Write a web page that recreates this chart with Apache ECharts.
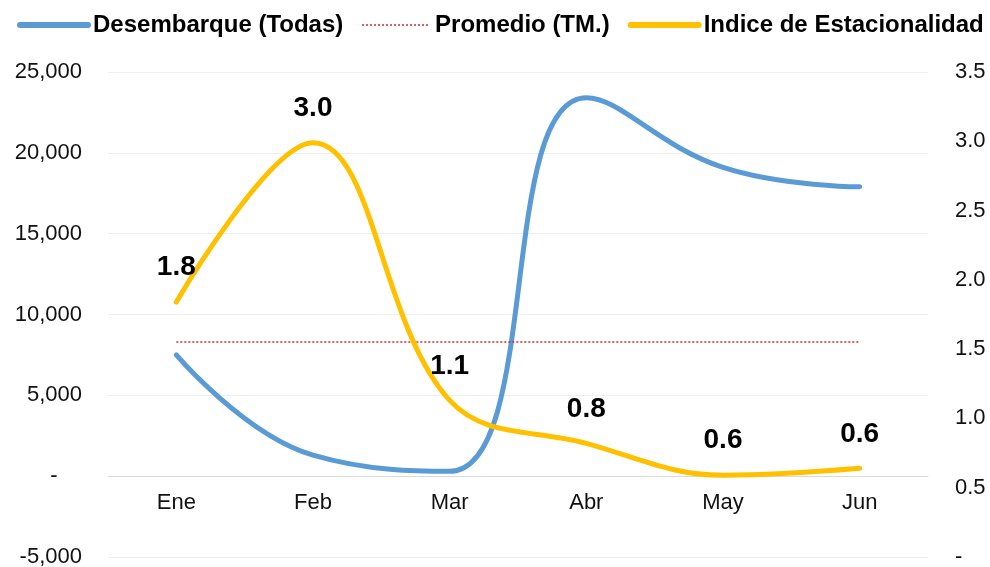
<!DOCTYPE html>
<html>
<head>
<meta charset="utf-8">
<script src="https://cdn.jsdelivr.net/npm/echarts@6/dist/echarts.min.js"></script>
<style>
  html, body { margin: 0; padding: 0; background: #fff; }
  #chart { width: 990px; height: 567px; }
</style>
</head>
<body>
<div id="chart"></div>
<script>
  // datos
  var meses = ['Ene', 'Feb', 'Mar', 'Abr', 'May', 'Jun'];
  var desembarque = [7500, 1300, 300, 23400, 19100, 17900];
  var promedio = [8300, 8300, 8300, 8300, 8300, 8300];
  var indice = [1.84, 2.99, 1.13, 0.82, 0.59, 0.64];

  var chart = echarts.init(document.getElementById('chart'));
  var font = 'Liberation Sans, Arial, sans-serif';

  chart.setOption({
    animation: false,
    textStyle: { fontFamily: font },
    legend: {
      top: 8,
      left: 12,
      width: 980,
      itemWidth: 68,
      itemHeight: 14,
      itemGap: 18,
      itemStyle: { opacity: 0 },
      textStyle: { fontSize: 24, fontWeight: 'bold', color: '#000', fontFamily: font },
      data: [
        { name: 'Desembarque (Todas)', lineStyle: { width: 6, cap: 'round' } },
        { name: 'Promedio (TM.)', lineStyle: { width: 1.5 } },
        { name: 'Indice de Estacionalidad', lineStyle: { width: 6, cap: 'round' } }
      ]
    },
    grid: { left: 108, right: 62, top: 72, bottom: 10, outerBoundsMode: 'none', containLabel: false },
    xAxis: {
      type: 'category',
      data: meses,
      // eje en el cero del eje izquierdo (6 intervalos, el cero esta un intervalo arriba)
      offset: -81,
      axisLine: { onZero: false, lineStyle: { color: '#d9d9d9', width: 1 } },
      axisTick: { show: false },
      axisLabel: { fontSize: 22, color: '#111', margin: 16 }
    },
    yAxis: [{
      type: 'value',
      min: -5000,
      max: 25000,
      interval: 5000,
      axisLine: { show: false },
      axisTick: { show: false },
      splitLine: { lineStyle: { color: '#efefef', width: 1 } },
      axisLabel: {
        fontSize: 22,
        color: '#111',
        margin: 26,
        formatter: function (v) {
          if (v === 0) return '-    ';
          return v.toLocaleString('en-US');
        }
      }
    }, {
      type: 'value',
      min: 0,
      max: 3.5,
      interval: 0.5,
      axisLine: { show: false },
      axisTick: { show: false },
      splitLine: { show: false },
      axisLabel: {
        fontSize: 22,
        color: '#111',
        margin: 27,
        formatter: function (v) {
          if (v === 0) return '-';
          return v.toFixed(1);
        }
      }
    }],
    series: [{
      name: 'Desembarque (Todas)',
      type: 'line',
      data: desembarque,
      smooth: 0.45,
      symbol: 'none',
      lineStyle: { color: '#5b9bd5', width: 5, cap: 'round' },
      itemStyle: { color: '#5b9bd5' }
    }, {
      name: 'Promedio (TM.)',
      type: 'line',
      data: promedio,
      symbol: 'none',
      lineStyle: { color: '#d42a2a', width: 1.5, type: [2, 2] },
      itemStyle: { color: '#d42a2a' }
    }, {
      name: 'Indice de Estacionalidad',
      type: 'line',
      yAxisIndex: 1,
      data: indice,
      smooth: 0.38,
      symbol: 'circle',
      symbolSize: 1,
      showSymbol: true,
      lineStyle: { color: '#ffc000', width: 5, cap: 'round' },
      itemStyle: { color: '#ffc000' },
      label: {
        show: true,
        position: 'top',
        distance: 20,
        fontSize: 28,
        fontWeight: 'bold',
        color: '#000',
        formatter: function (p) { return p.value.toFixed(1); }
      }
    }]
  });
</script>
</body>
</html>
